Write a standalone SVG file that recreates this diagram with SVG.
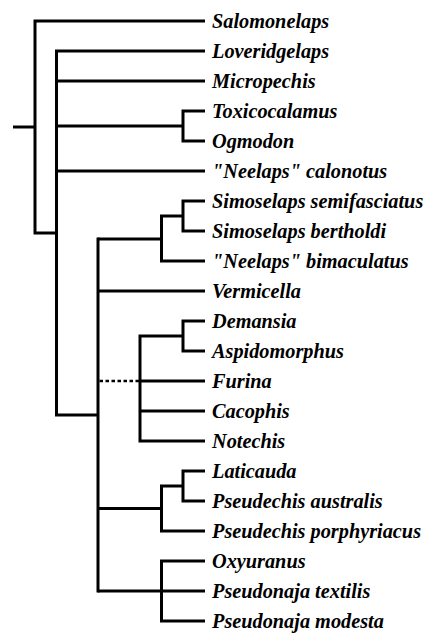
<svg xmlns="http://www.w3.org/2000/svg" width="431" height="633" viewBox="0 0 431 633">
<style>
.t{font-family:"Liberation Serif","Times New Roman",serif;font-size:20.3px;font-weight:bold;font-style:italic;fill:#000}
.e{fill:none;stroke:#000;stroke-width:3;stroke-linejoin:miter;stroke-linecap:butt}
.d{fill:none;stroke:#000;stroke-width:2.5;stroke-dasharray:3.5 2.5}
</style>
<rect width="431" height="633" fill="#fff"/>
<g id="connectors">
<path class="e" d="M13,127 H35"/>
<path class="e" d="M205,21 H35 V233 H57"/>
<path class="e" d="M205,51 H56.5 V415 H98"/>
<path class="e" d="M56,81 H205"/>
<path class="e" d="M56,126 H183"/>
<path class="e" d="M205,111 H183 V141 H205"/>
<path class="e" d="M56,171 H205"/>
<path class="e" d="M98,237.5 V592.5"/>
<path class="e" d="M98,239 H161"/>
<path class="e" d="M183,216 H161.5 V261 H205"/>
<path class="e" d="M205,201 H183 V231 H205"/>
<path class="e" d="M98,291 H205"/>
<path class="d" d="M99.5,381 H140"/>
<path class="e" d="M183,336 H140 V441 H205"/>
<path class="e" d="M205,321 H183 V351 H205"/>
<path class="e" d="M140,381 H205"/>
<path class="e" d="M140,411 H205"/>
<path class="e" d="M98,508.5 H161"/>
<path class="e" d="M183,486 H161.5 V531 H205"/>
<path class="e" d="M205,471 H183 V501 H205"/>
<path class="e" d="M98,591 H161"/>
<path class="e" d="M205,561 H161.5 V621 H205"/>
<path class="e" d="M161,591 H205"/>
</g>
<g id="n-salomonelaps"><text class="t" x="212" y="28">Salomonelaps</text></g>
<g id="n-loveridgelaps"><text class="t" x="212" y="58">Loveridgelaps</text></g>
<g id="n-micropechis"><text class="t" x="212" y="88">Micropechis</text></g>
<g id="n-toxicocalamus"><text class="t" x="212" y="118">Toxicocalamus</text></g>
<g id="n-ogmodon"><text class="t" x="212" y="148">Ogmodon</text></g>
<g id="n-neelaps-calonotus"><text class="t" x="212" y="178">"Neelaps" calonotus</text></g>
<g id="n-simoselaps-semifasciatus"><text class="t" x="212" y="208">Simoselaps semifasciatus</text></g>
<g id="n-simoselaps-bertholdi"><text class="t" x="212" y="238">Simoselaps bertholdi</text></g>
<g id="n-neelaps-bimaculatus"><text class="t" x="212" y="268">"Neelaps" bimaculatus</text></g>
<g id="n-vermicella"><text class="t" x="212" y="298">Vermicella</text></g>
<g id="n-demansia"><text class="t" x="212" y="328">Demansia</text></g>
<g id="n-aspidomorphus"><text class="t" x="212" y="358">Aspidomorphus</text></g>
<g id="n-furina"><text class="t" x="212" y="388">Furina</text></g>
<g id="n-cacophis"><text class="t" x="212" y="418">Cacophis</text></g>
<g id="n-notechis"><text class="t" x="212" y="448">Notechis</text></g>
<g id="n-laticauda"><text class="t" x="212" y="478">Laticauda</text></g>
<g id="n-pseudechis-australis"><text class="t" x="212" y="508">Pseudechis australis</text></g>
<g id="n-pseudechis-porphyriacus"><text class="t" x="212" y="538">Pseudechis porphyriacus</text></g>
<g id="n-oxyuranus"><text class="t" x="212" y="568">Oxyuranus</text></g>
<g id="n-pseudonaja-textilis"><text class="t" x="212" y="598">Pseudonaja textilis</text></g>
<g id="n-pseudonaja-modesta"><text class="t" x="212" y="628">Pseudonaja modesta</text></g>
</svg>
